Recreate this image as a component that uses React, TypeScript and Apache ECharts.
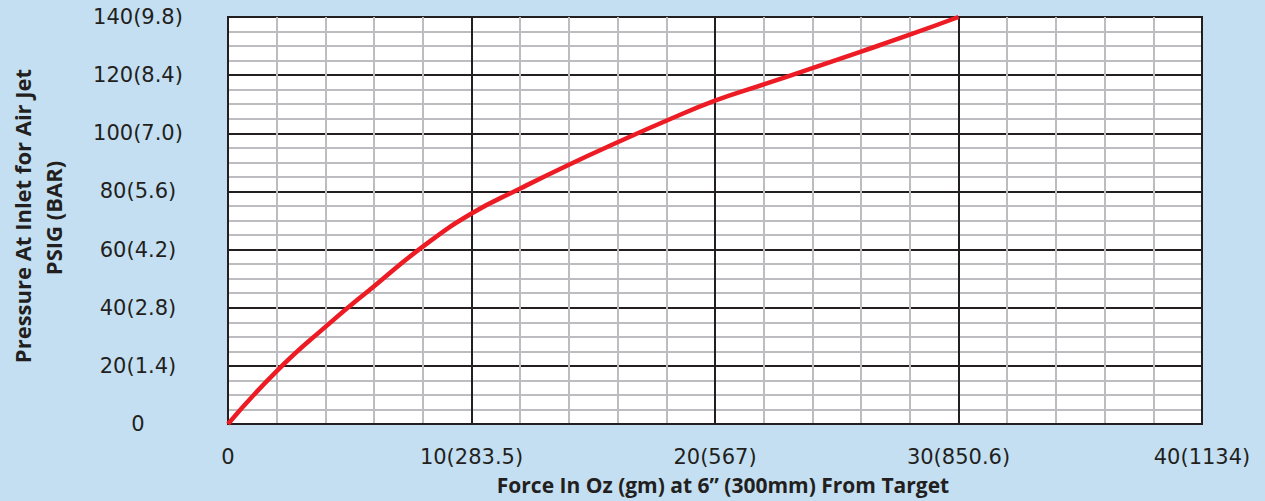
import React, { useEffect, useRef } from 'react';
import * as echarts from 'echarts';

const forceOz = [0, 2, 4, 6, 8, 10, 12, 14, 16, 18, 20, 22, 24, 26, 28, 30];
const pressurePsi = [0, 18.2, 33.4, 47.4, 61, 72.4, 81, 89.2, 96.9, 104.3, 111.2, 116.8, 122.4, 128.1, 133.9, 140];
const xTickValues = [0, 10, 20, 30, 40];
const xTickLabels = ['0', '10(283.5)', '20(567)', '30(850.6)', '40(1134)'];
const yTickValues = [0, 20, 40, 60, 80, 100, 120, 140];
const yTickLabels = ['0', '20(1.4)', '40(2.8)', '60(4.2)', '80(5.6)', '100(7.0)', '120(8.4)', '140(9.8)'];
const xTitle = 'Force In Oz (gm) at 6\u201D (300mm) From Target';
const yTitleLines = ['Pressure At Inlet for Air Jet', 'PSIG (BAR)'];

const BG = '#c4dff2';
const INK = '#231f20';
const MINOR = '#bcbcc1';
const RED = '#ed1c24';

export default function App() {
  const ref = useRef<HTMLDivElement>(null);
  useEffect(() => {
    document.body.style.margin = '0';
    const chart = echarts.init(ref.current!, null, { renderer: 'svg' });
    const labelFont = { fontFamily: 'DejaVu Sans', fontSize: 21, color: INK };
    const titleFont = { fontFamily: 'Open Sans', fontWeight: 'bold' as const, fontSize: 22, fill: INK };
    chart.setOption({
      animation: false,
      backgroundColor: BG,
      grid: {
        left: 228,
        right: 63,
        top: 17,
        bottom: 77,
        show: true,
        backgroundColor: '#ffffff',
        borderColor: INK,
        borderWidth: 2,
      },
      xAxis: {
        type: 'value',
        min: 0,
        max: 40,
        interval: 10,
        axisLine: { show: true, lineStyle: { color: INK, width: 2 } },
        axisTick: { show: false },
        axisLabel: {
          ...labelFont,
          margin: 22,
          formatter: (v: number) => {
            const i = xTickValues.indexOf(v);
            return i >= 0 ? xTickLabels[i] : '';
          },
        },
        splitLine: { show: true, lineStyle: { color: INK, width: 2 } },
        minorTick: { show: false, splitNumber: 5 },
        minorSplitLine: { show: true, lineStyle: { color: MINOR, width: 2 } },
      },
      yAxis: {
        type: 'value',
        min: 0,
        max: 140,
        interval: 20,
        axisLine: { show: true, lineStyle: { color: INK, width: 2 } },
        axisTick: { show: false },
        axisLabel: {
          ...labelFont,
          align: 'center',
          margin: 90,
          formatter: (v: number) => {
            const i = yTickValues.indexOf(v);
            return i >= 0 ? yTickLabels[i] : '';
          },
        },
        splitLine: { show: true, lineStyle: { color: INK, width: 2 } },
        minorTick: { show: false, splitNumber: 4 },
        minorSplitLine: { show: true, lineStyle: { color: MINOR, width: 2 } },
      },
      graphic: [
        {
          type: 'text',
          x: 723,
          y: 485,
          style: { ...titleFont, fontSize: 21, text: xTitle, textAlign: 'center', textVerticalAlign: 'middle' },
        },
        {
          type: 'text',
          x: 22,
          y: 216,
          rotation: Math.PI / 2,
          style: { ...titleFont, text: yTitleLines[0], textAlign: 'center', textVerticalAlign: 'middle' },
        },
        {
          type: 'text',
          x: 53,
          y: 218,
          rotation: Math.PI / 2,
          style: { ...titleFont, text: yTitleLines[1], textAlign: 'center', textVerticalAlign: 'middle' },
        },
      ],
      series: [
        {
          type: 'line',
          data: forceOz.map((x, i) => [x, pressurePsi[i]]),
          showSymbol: false,
          smooth: 0.5,
          clip: false,
          lineStyle: { color: RED, width: 4.5 },
          z: 5,
        },
      ],
    });
    return () => chart.dispose();
  }, []);
  return <div ref={ref} style={{ width: 1265, height: 501 }} />;
}
